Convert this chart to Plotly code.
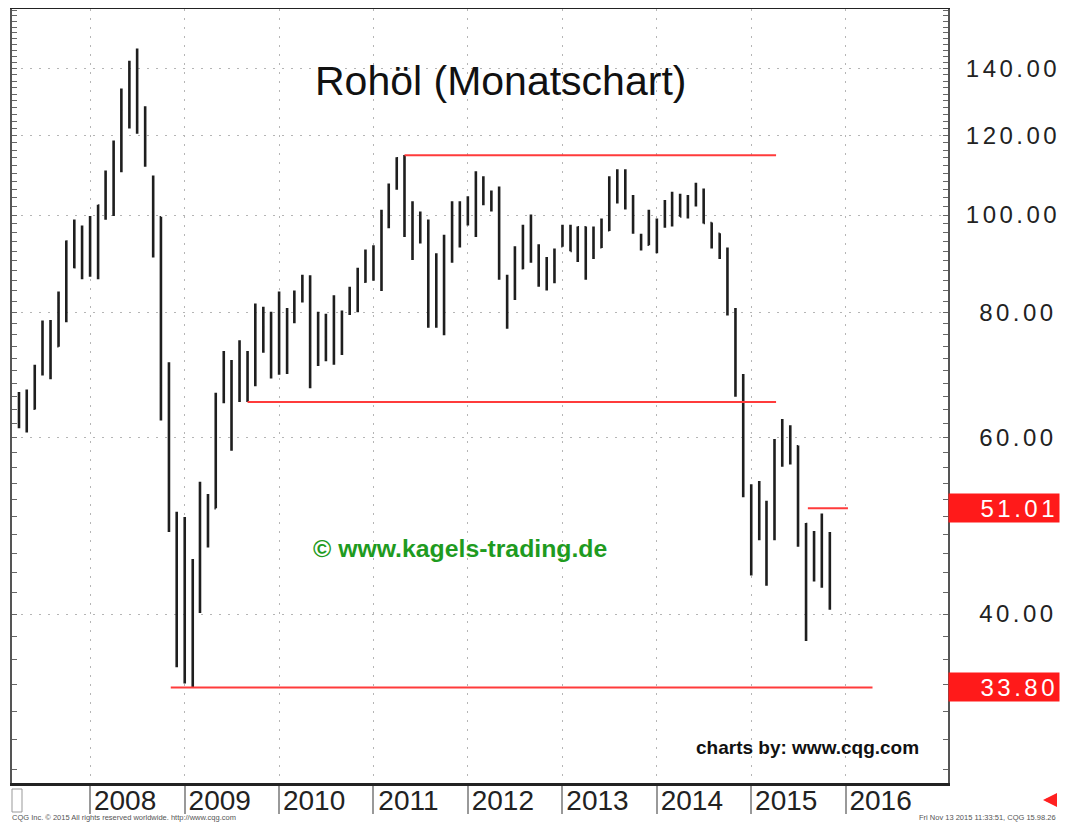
import math
import plotly.graph_objects as go

# ---------------- data (monthly OHLC) ----------------
start_year, start_month, n_months = 2007, 4, 104
months = []
y, m = start_year, start_month
for _ in range(n_months):
    months.append(f"{y:04d}-{m:02d}-01")
    m += 1
    if m > 12:
        m = 1
        y += 1

opens = [65.9, 65.5, 64.1, 70.0, 78.2, 74.0, 81.7, 94.0, 88.9,
         96.0, 92.0, 102.0, 101.6, 113.5, 127.8, 140.0, 124.0, 109.0, 99.5, 67.9, 50.0,
         46.0, 41.0, 42.4, 48.2, 51.0, 66.3, 69.9, 69.5, 70.0, 70.2, 77.0, 77.3,
         79.4, 72.9, 79.7, 83.8, 86.2, 74.0, 75.6, 79.0, 72.8, 80.2, 81.4, 85.8,
         91.4, 92.2, 97.3, 106.7, 113.9, 102.7, 95.4, 95.7, 88.8, 79.2, 93.2, 100.4,
         98.8, 98.5, 107.1, 103.0, 104.9, 86.5, 85.0, 88.5, 96.5, 92.2, 86.2, 88.9,
         93.1, 97.5, 92.1, 97.2, 93.5, 92.9, 96.6, 105.0, 107.7, 102.3, 95.3, 93.4,
         98.4, 97.5, 102.6, 101.6, 99.7, 102.7, 105.4, 98.2, 95.8, 91.2, 80.5, 66.2,
         53.3, 48.3, 49.8, 47.6, 59.6, 60.3, 58.8, 46.3, 47.0, 46.0, 46.0]
highs = [66.6, 67.0, 70.9, 78.5, 78.6, 83.9, 94.3, 99.0, 97.6,
         99.8, 102.4, 110.8, 118.7, 133.7, 142.5, 146.6, 128.4, 109.5, 99.6, 71.3, 50.6,
         50.0, 45.4, 54.2, 52.7, 66.5, 73.2, 71.7, 75.0, 73.2, 81.6, 81.0, 80.1,
         83.9, 80.8, 84.1, 87.2, 87.1, 80.1, 79.7, 83.2, 80.3, 84.8, 88.6, 92.4,
         93.3, 101.2, 107.5, 114.2, 114.8, 103.2, 100.8, 99.0, 91.6, 95.6, 103.2, 103.2,
         104.4, 110.6, 109.3, 105.8, 106.8, 87.2, 93.1, 97.8, 100.1, 93.5, 90.8, 92.6,
         97.8, 97.8, 97.4, 97.4, 97.4, 99.2, 109.3, 111.1, 111.1, 104.7, 95.8, 101.2,
         99.2, 103.5, 105.5, 105.0, 104.7, 107.7, 106.3, 98.3, 95.9, 92.8, 80.8, 69.4,
         53.9, 54.3, 51.9, 59.8, 62.6, 61.7, 58.9, 49.3, 48.4, 50.4, 48.3]
lows = [61.3, 60.7, 64.0, 69.2, 68.6, 73.9, 78.2, 88.5, 86.3,
        86.8, 86.3, 98.9, 99.8, 110.3, 122.0, 120.5, 111.7, 90.7, 62.4, 48.3, 35.4,
        34.1, 33.8, 40.1, 46.6, 51.0, 64.9, 58.2, 65.1, 65.1, 67.5, 72.9, 68.7,
        69.3, 69.4, 78.0, 81.8, 67.2, 70.7, 71.5, 70.9, 72.5, 79.5, 80.0, 85.6,
        86.0, 84.0, 97.0, 106.0, 95.1, 90.2, 93.7, 77.2, 77.2, 75.9, 89.6, 92.8,
        97.6, 95.1, 102.3, 100.8, 86.2, 77.0, 82.3, 88.3, 89.6, 84.8, 84.1, 85.5,
        93.0, 92.0, 89.8, 86.2, 90.4, 92.7, 96.4, 102.7, 101.3, 95.8, 92.2, 93.3,
        91.6, 97.1, 97.4, 99.6, 99.2, 102.0, 98.1, 92.6, 90.4, 79.4, 65.9, 52.3,
        43.7, 47.4, 42.7, 47.4, 56.1, 56.4, 46.7, 37.6, 43.1, 42.5, 40.4]
closes = [65.5, 64.1, 70.7, 78.2, 74.4, 81.7, 94.1, 88.7, 96.0,
          91.8, 102.2, 101.6, 114.6, 127.3, 140.0, 123.8, 115.5, 100.7, 67.6, 54.3, 44.6,
          41.5, 44.7, 49.5, 51.0, 66.3, 69.9, 69.4, 70.0, 70.2, 77.0, 77.3, 79.4,
          72.9, 79.7, 83.8, 86.2, 74.0, 75.6, 79.0, 71.9, 80.0, 81.4, 84.1, 91.4,
          92.2, 97.0, 106.7, 113.9, 102.7, 95.4, 95.7, 88.8, 79.2, 93.2, 100.4, 98.8,
          98.5, 107.1, 103.0, 104.9, 86.5, 85.0, 88.1, 96.5, 92.2, 86.2, 88.9, 91.8,
          97.5, 92.1, 97.2, 93.5, 92.0, 96.6, 105.0, 107.7, 102.3, 96.4, 92.7, 98.4,
          97.5, 102.6, 101.6, 99.7, 102.7, 105.4, 98.2, 95.8, 91.2, 80.5, 66.2, 53.3,
          48.2, 49.8, 47.6, 59.6, 60.3, 59.5, 47.1, 49.2, 45.1, 46.5, 40.9]

# analyst's horizontal levels (value, start, end)
level_values = [114.7, 65.1, 33.80, 51.01]
level_starts = ["2011-05-01", "2009-09-01", "2008-11-08", "2015-08-08"]
level_ends = ["2015-04-07", "2015-04-07", "2016-04-14", "2016-01-10"]

# right-hand price labels
ytick_values = [40, 60, 80, 100, 120, 140]
ytick_labels = ["40.00", "60.00", "80.00", "100.00", "120.00", "140.00"]
boxed_values = [51.01, 33.80]
boxed_labels = ["51.01", "33.80"]

year_ticks = [f"{yr}-01-01" for yr in range(2008, 2017)]
year_labels = [str(yr) for yr in range(2008, 2017)]

# ---------------------------------------------------------------------------
FONT = "Liberation Sans, Arial, sans-serif"
FIG_W, FIG_H = 1060, 814          # page body adds an 8px offset
PLOT_W, PLOT_H = 936, 774


def spaced(s, width=6):
    pad = "\u2007" * (width - len(s))
    return pad + f"<span style='letter-spacing:3.5px'>{s}</span>"


def px(X):   # screen x -> paper x
    return (X - 12) / PLOT_W


def py(Y):   # screen y -> paper y
    return (783 - Y) / PLOT_H


fig = go.Figure()

fig.add_trace(go.Ohlc(
    x=months, open=opens, high=highs, low=lows, close=closes,
    increasing=dict(line=dict(color="#1e1e1e", width=2.6)),
    decreasing=dict(line=dict(color="#1e1e1e", width=2.6)),
    tickwidth=0.18, showlegend=False, hoverinfo="skip",
))

for v, s, e in zip(level_values, level_starts, level_ends):
    fig.add_trace(go.Scatter(
        x=[s, e], y=[v, v], mode="lines",
        line=dict(color="#ff3b3b", width=2), showlegend=False, hoverinfo="skip",
    ))

annotations = [
    dict(text="Rohöl (Monatschart)", xref="paper", yref="paper", x=px(500), y=py(81),
         showarrow=False, font=dict(family=FONT, size=41, color="#111"),
         xanchor="center", yanchor="middle"),
    dict(text="<b>© www.kagels-trading.de</b>", xref="paper", yref="paper", x=px(460), y=py(548),
         showarrow=False, font=dict(family=FONT, size=24.8, color="#1f9b1f"),
         xanchor="center", yanchor="middle"),
    dict(text="<b>charts by: www.cqg.com</b>", xref="paper", yref="paper", x=px(807.5), y=py(747),
         showarrow=False, font=dict(family=FONT, size=19, color="#111"),
         xanchor="center", yanchor="middle"),
    dict(text="CQG Inc. © 2015 All rights reserved worldwide. http://www.cqg.com",
         xref="paper", yref="paper", x=px(10), y=py(817), showarrow=False,
         font=dict(family=FONT, size=7.5, color="#555"), xanchor="left", yanchor="middle"),
    dict(text="Fri Nov 13 2015 11:33:51, CQG 15.98.26",
         xref="paper", yref="paper", x=px(1058), y=py(817), showarrow=False,
         font=dict(family=FONT, size=7.5, color="#555"), xanchor="right", yanchor="middle"),
    dict(text="", xref="paper", yref="paper", x=px(1043), y=py(800), ax=15, ay=0,
         showarrow=True, arrowhead=2, arrowsize=0.8, arrowwidth=3.5, arrowcolor="#ff2020"),
]
for v, lab in zip(boxed_values, boxed_labels):
    annotations.append(dict(
        text=spaced(lab), xref="paper", yref="y", x=1.0, y=math.log10(v),
        xanchor="left", yanchor="middle", showarrow=False, align="right",
        width=108, height=26, bgcolor="#ff1a1a", borderpad=1,
        font=dict(family=FONT, size=24, color="white"),
    ))

minor_vals = [v for v in range(28, 162, 2)]

fig.update_layout(
    width=FIG_W, height=FIG_H, autosize=False,
    margin=dict(l=4, r=120, t=1, b=FIG_H - 775, autoexpand=False),
    paper_bgcolor="white", plot_bgcolor="white",
    font=dict(family=FONT, color="#222"),
    showlegend=False,
    annotations=annotations,
    shapes=[dict(type="rect", xref="paper", yref="paper", x0=px(12), x1=px(22),
                 y0=py(812), y1=py(789), line=dict(color="#999", width=1))],
    xaxis=dict(
        type="date", range=["2007-03-05", "2017-01-31"],
        rangeslider=dict(visible=False), automargin=False,
        tickmode="array", tickvals=year_ticks, ticktext=year_labels,
        ticks="outside", ticklen=28, tickwidth=2, tickcolor="#999",
        ticklabelshift=35, ticklabelstandoff=-38,
        tickfont=dict(family=FONT, size=28, color="#222"),
        showgrid=True, gridcolor="#b5b5b5", griddash="2px,7px", gridwidth=1,
        showline=True, linecolor="#222", linewidth=3, mirror=True,
        zeroline=False, fixedrange=True,
    ),
    yaxis=dict(
        type="log", side="right", automargin=False,
        range=[math.log10(27.14), math.log10(160.5)],
        tickmode="array", tickvals=ytick_values,
        ticktext=[spaced(t) for t in ytick_labels],
        ticks="", ticklabelstandoff=11,
        tickfont=dict(family=FONT, size=24, color="#222"),
        showgrid=True, gridcolor="#b5b5b5", griddash="2px,7px", gridwidth=1,
        minor=dict(tickmode="array", tickvals=minor_vals, ticks="inside",
                   ticklen=5, tickcolor="#666", showgrid=False),
        showline=True, linecolor="#555", linewidth=2, mirror="allticks",
        zeroline=False, fixedrange=True,
    ),
)

fig.write_html("out.html")
